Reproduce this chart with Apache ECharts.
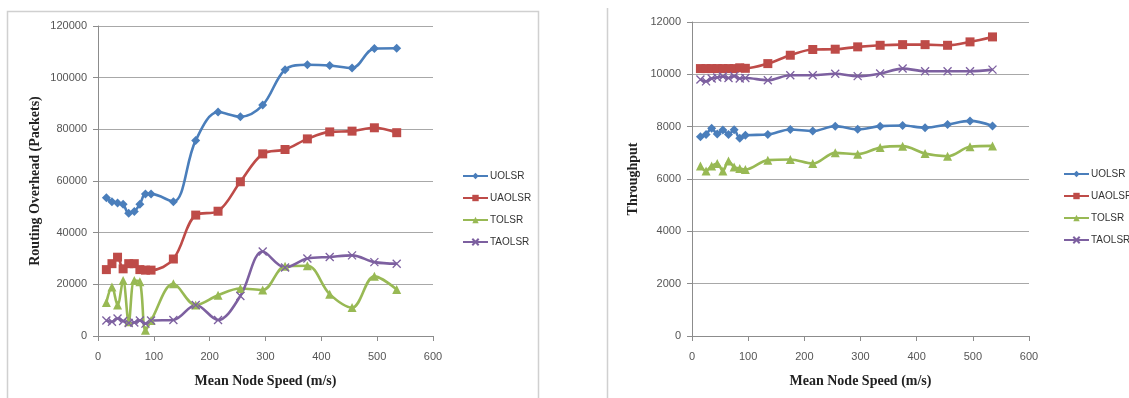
<!DOCTYPE html>
<html>
<head>
<meta charset="utf-8">
<script src="https://cdn.jsdelivr.net/npm/echarts@6/dist/echarts.min.js"></script>
<style>
  html, body { margin: 0; padding: 0; background: #fff; }
  #chart { width: 1129px; height: 398px; }
</style>
</head>
<body>
<div id="chart"></div>
<script>
// Mean node speed (m/s) shared by every series
const speeds = [15, 25, 35, 45, 55, 65, 75, 85, 95, 135, 175, 215, 255, 295, 335, 375, 415, 455, 495, 535];

const seriesNames = ['UOLSR', 'UAOLSR', 'TOLSR', 'TAOLSR'];

// Routing overhead (packets)
const overheadUOLSR  = [53500, 52000, 51500, 51000, 47500, 48200, 51000, 55000, 55000, 52000, 75700, 86700, 84900, 89400, 103100, 105000, 104700, 103700, 111300, 111400];
const overheadUAOLSR = [25700, 28000, 30500, 26000, 28000, 28000, 25700, 25500, 25500, 29800, 46800, 48300, 59700, 70500, 72200, 76300, 79000, 79300, 80600, 78700];
const overheadTOLSR  = [13000, 19000, 12000, 21500, 5500, 21500, 21000, 2200, 6000, 20200, 12000, 15800, 18400, 17800, 27000, 27200, 16200, 11000, 23100, 18000];
const overheadTAOLSR = [6000, 5500, 6800, 5800, 5000, 5200, 6000, 4800, 6000, 6200, 12000, 6200, 15500, 32700, 26500, 30000, 30600, 31200, 28600, 28000];

// Throughput
const throughputUOLSR  = [7610, 7700, 7940, 7720, 7870, 7700, 7880, 7560, 7670, 7700, 7890, 7830, 8020, 7900, 8020, 8045, 7960, 8085, 8220, 8030];
const throughputUAOLSR = [10220, 10220, 10220, 10220, 10220, 10220, 10220, 10250, 10230, 10410, 10730, 10950, 10960, 11050, 11110, 11135, 11135, 11110, 11240, 11430];
const throughputTOLSR  = [6500, 6310, 6500, 6590, 6310, 6690, 6460, 6400, 6360, 6720, 6745, 6590, 7000, 6950, 7200, 7255, 6975, 6870, 7230, 7265];
const throughputTAOLSR = [9800, 9730, 9840, 9880, 9920, 9860, 9930, 9840, 9860, 9775, 9965, 9965, 10020, 9930, 10030, 10220, 10120, 10120, 10120, 10180];

const xTicks = [0, 100, 200, 300, 400, 500, 600];

const colors = ['#4a7ebb', '#be4b48', '#98b954', '#7d60a0'];
const symbols = ['diamond', 'rect', 'triangle', 'path://M0,0L10,10M10,0L0,10'];
const symbolSizes = [9, 9, 9, 8];

const pairs = arr => speeds.map((s, i) => [s, arr[i]]);

function makeSeries(name, idx, values, axisIdx) {
  const isCross = idx === 3;
  return {
    name: name,
    type: 'line',
    xAxisIndex: axisIdx,
    yAxisIndex: axisIdx,
    data: pairs(values),
    smooth: 0.35,
    symbol: symbols[idx],
    symbolSize: symbolSizes[idx],
    showAllSymbol: true,
    lineStyle: { color: colors[idx], width: 2.6 },
    itemStyle: isCross
      ? { color: colors[idx], borderColor: colors[idx], borderWidth: 1.3 }
      : { color: colors[idx] },
    emphasis: { disabled: true },
    animation: false
  };
}

const tickFont = { fontFamily: 'Liberation Sans, Arial, sans-serif', fontSize: 11, color: '#555' };
const titleFont = { fontFamily: 'Liberation Serif, Times New Roman, serif', fontSize: 14, fontWeight: 'bold', color: '#222' };

function xAxis(gridIndex) {
  return {
    type: 'value', gridIndex: gridIndex, min: 0, max: 600, interval: 100,
    name: 'Mean Node Speed (m/s)', nameLocation: 'middle', nameGap: 38,
    nameTextStyle: titleFont,
    axisLine: { show: true, lineStyle: { color: '#8c8c8c', width: 1 } },
    axisTick: { show: true, inside: false, length: 5, lineStyle: { color: '#8c8c8c' } },
    axisLabel: Object.assign({ margin: 15, formatter: v => xTicks.includes(v) ? String(v) : '' }, tickFont),
    splitLine: { show: false }
  };
}

function yAxis(gridIndex, max, interval, name, gap) {
  return {
    type: 'value', gridIndex: gridIndex, min: 0, max: max, interval: interval,
    name: name, nameLocation: 'middle', nameGap: gap,
    nameTextStyle: titleFont,
    axisLine: { show: true, lineStyle: { color: '#8c8c8c', width: 1 } },
    axisTick: { show: true, inside: false, length: 5, lineStyle: { color: '#8c8c8c' } },
    axisLabel: Object.assign({ margin: 11, formatter: v => String(v) }, tickFont),
    splitLine: { show: true, lineStyle: { color: '#a8a8a8', width: 1 } }
  };
}

function legend(left, top) {
  return {
    orient: 'vertical', left: left, top: top,
    itemWidth: 25, itemHeight: 8, itemGap: 12,
    textStyle: { fontFamily: 'Liberation Sans, Arial, sans-serif', fontSize: 10, color: '#333', padding: [0, 0, 0, -3] },
    data: seriesNames.map(n => ({ name: n })),
    selectedMode: false
  };
}

const option = {
  backgroundColor: '#ffffff',
  animation: false,
  grid: [
    { left: 98, right: 1129 - 433, top: 26, bottom: 398 - 336 },
    { left: 692, right: 1129 - 1029, top: 22, bottom: 398 - 336 }
  ],
  xAxis: [xAxis(0), xAxis(1)],
  yAxis: [
    yAxis(0, 120000, 20000, 'Routing Overhead (Packets)', 56),
    yAxis(1, 12000, 2000, 'Throughput', 52)
  ],
  legend: [
    Object.assign(legend(457, 166), { id: 'legL' }),
    Object.assign(legend(1058, 164), { id: 'legR' })
  ],
  graphic: [
    // frame around the left panel
    { type: 'polyline', shape: { points: [[7.5, 398], [7.5, 11.5], [538.5, 11.5], [538.5, 398]] },
      style: { stroke: '#d0d0d0', lineWidth: 1.5, fill: null }, silent: true },
    // left edge of the right panel frame
    { type: 'line', shape: { x1: 607.5, y1: 8, x2: 607.5, y2: 398 },
      style: { stroke: '#d0d0d0', lineWidth: 1.5 }, silent: true }
  ],
  series: [
    makeSeries('UOLSR', 0, overheadUOLSR, 0),
    makeSeries('UAOLSR', 1, overheadUAOLSR, 0),
    makeSeries('TOLSR', 2, overheadTOLSR, 0),
    makeSeries('TAOLSR', 3, overheadTAOLSR, 0),
    makeSeries('UOLSR', 0, throughputUOLSR, 1),
    makeSeries('UAOLSR', 1, throughputUAOLSR, 1),
    makeSeries('TOLSR', 2, throughputTOLSR, 1),
    makeSeries('TAOLSR', 3, throughputTAOLSR, 1)
  ]
};

const chart = echarts.init(document.getElementById('chart'), null, { renderer: 'canvas' });
chart.setOption(option);
</script>
</body>
</html>
